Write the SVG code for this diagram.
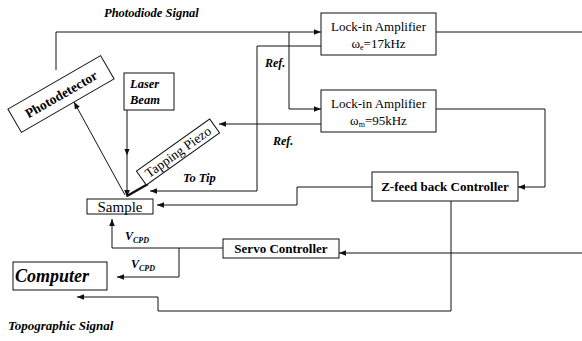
<svg xmlns="http://www.w3.org/2000/svg" width="582" height="341" viewBox="0 0 582 341">
<defs>
<marker id="ah" viewBox="0 0 10 8" refX="10" refY="4" markerWidth="7" markerHeight="5.6" markerUnits="userSpaceOnUse" orient="auto">
<path d="M0,0 L10,4 L0,8 Z" fill="#111"/>
</marker>
<marker id="mid" viewBox="0 0 10 8" refX="5" refY="4" markerWidth="7" markerHeight="5.6" markerUnits="userSpaceOnUse" orient="auto">
<path d="M0,0 L10,4 L0,8 Z" fill="#111"/>
</marker>
</defs>
<style>
.box{fill:#fff;stroke:#111;stroke-width:1}
.ln{fill:none;stroke:#111;stroke-width:1}
.t{font-family:"Liberation Serif","Times New Roman",serif;fill:#000}
.b{font-weight:bold}
.bi{font-weight:bold;font-style:italic}
</style>
<rect width="582" height="341" fill="#fff"/>

<g id="labels">
<text class="t bi" x="104" y="17" style="font-size:12.5px">Photodiode Signal</text>
<text class="t bi" x="265" y="67" style="font-size:12px">Ref.</text>
<text class="t bi" x="273" y="145" style="font-size:12px">Ref.</text>
<text class="t bi" x="183" y="182" style="font-size:12.5px">To Tip</text>
<text class="t bi" x="125" y="240" style="font-size:12px">V<tspan style="font-size:8px" dy="3">CPD</tspan></text>
<text class="t bi" x="131" y="268" style="font-size:12px">V<tspan style="font-size:8px" dy="3">CPD</tspan></text>
<text class="t bi" x="8" y="330" style="font-size:13px">Topographic Signal</text>
</g>

<g id="connectors">
<path class="ln" d="M56,70 V32 H321" marker-end="url(#ah)"/>
<path class="ln" d="M289,32 V109 H321" marker-end="url(#ah)"/>
<path class="ln" d="M321,46 H257 V191 H150" marker-end="url(#ah)"/>
<path class="ln" d="M321,124 H219" marker-end="url(#ah)"/>
<path class="ln" d="M436,32 H582"/>
<path class="ln" d="M436,109 H545 V187 H518" marker-end="url(#ah)"/>
<path class="ln" d="M372,187 H297 V205 H157" marker-end="url(#ah)"/>
<path class="ln" d="M451,201 V311 H158 V297 H77" marker-end="url(#ah)"/>
<path class="ln" d="M582,253 H339" marker-end="url(#ah)"/>
<path class="ln" d="M223,248 H112 V219" marker-end="url(#ah)"/>
<path class="ln" d="M179,248 V277 H117" marker-end="url(#ah)"/>
<path class="ln" d="M127,110 V152" marker-end="url(#mid)"/>
<path class="ln" d="M127,150 V197" marker-end="url(#ah)"/>
<path class="ln" d="M125,195 L74,102" marker-end="url(#ah)"/>
<path d="M127,196 L148,184" stroke="#111" stroke-width="2.5" fill="none"/>
</g>

<g id="lockin1">
<rect class="box" x="321" y="13" width="115" height="42"/>
<text class="t" x="378.5" y="31" text-anchor="middle" style="font-size:13px">Lock-in Amplifier</text>
<text class="t" x="378.5" y="48" text-anchor="middle" style="font-size:13px">ω<tspan style="font-size:8px" dy="2">e</tspan><tspan dy="-2">=17kHz</tspan></text>
</g>

<g id="lockin2">
<rect class="box" x="321" y="90" width="115" height="42"/>
<text class="t" x="378.5" y="108" text-anchor="middle" style="font-size:13px">Lock-in Amplifier</text>
<text class="t" x="378.5" y="125" text-anchor="middle" style="font-size:13px">ω<tspan style="font-size:8px" dy="2">m</tspan><tspan dy="-2">=95kHz</tspan></text>
</g>

<g id="zfeedback">
<rect class="box" x="372" y="172" width="146" height="29"/>
<text class="t b" x="445" y="191" text-anchor="middle" style="font-size:13px">Z-feed back Controller</text>
</g>

<g id="servo">
<rect class="box" x="223" y="239" width="116" height="19"/>
<text class="t b" x="281" y="253" text-anchor="middle" style="font-size:13px">Servo Controller</text>
</g>

<g id="computer">
<rect class="box" x="13" y="262" width="94" height="28"/>
<text class="t bi" x="52" y="282" text-anchor="middle" style="font-size:18px">Computer</text>
</g>

<g id="sample">
<rect class="box" x="87" y="199" width="66" height="15"/>
<text class="t" x="120" y="212" text-anchor="middle" style="font-size:15px">Sample</text>
</g>

<g id="laser">
<rect class="box" x="124" y="73" width="50" height="37"/>
<text class="t bi" x="130" y="88" style="font-size:12.5px">Laser</text>
<text class="t bi" x="130" y="104" style="font-size:12.5px">Beam</text>
</g>

<g id="photodetector" transform="translate(61,94) rotate(-30)">
<rect class="box" x="-53.5" y="-13.5" width="107" height="27"/>
<text class="t b" x="0" y="5" text-anchor="middle" style="font-size:13.5px">Photodetector</text>
</g>

<g id="piezo" transform="translate(178,152) rotate(-35.5)">
<rect class="box" x="-45" y="-8.5" width="90" height="17"/>
<text class="t" x="0" y="4.5" text-anchor="middle" style="font-size:13.5px">Tapping Piezo</text>
</g>
</svg>
